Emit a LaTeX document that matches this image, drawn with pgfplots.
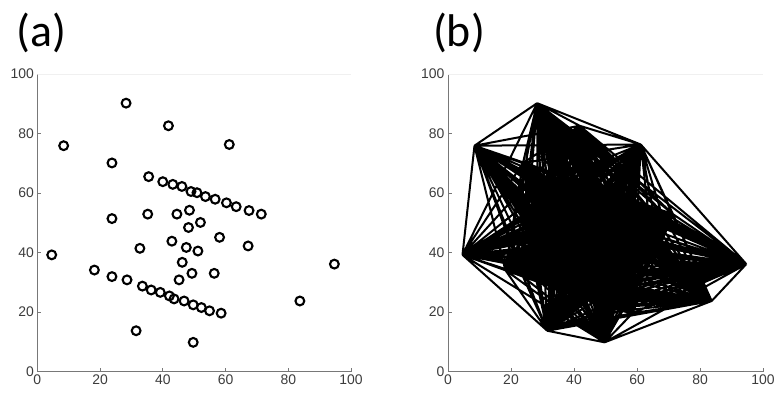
\documentclass[border=0pt]{standalone}
\usepackage{fontspec}
\setmainfont{Liberation Sans}
\newfontfamily\calib{Carlito}
\usepackage{pgfplots}
\usepackage{pgfplotstable}
\pgfplotsset{compat=1.18}
\definecolor{axgray}{RGB}{120,120,120}
\definecolor{labgray}{RGB}{60,60,60}

\pgfplotstableread{
x y
8.4 75.9
28.3 90.2
41.8 82.6
23.8 70.1
61.2 76.3
35.5 65.5
40.0 63.8
43.2 62.9
46.1 62.2
49.0 60.5
50.9 60.1
53.6 58.8
56.7 57.9
60.3 56.7
63.4 55.4
67.5 54.1
71.4 52.9
23.8 51.4
35.2 52.9
44.5 52.9
48.5 54.2
48.2 48.4
52.0 50.1
58.1 45.1
42.9 43.8
32.7 41.4
47.5 41.7
51.2 40.5
67.2 42.2
46.2 36.7
49.3 33.0
56.4 33.0
45.2 30.8
4.6 39.2
94.7 36.1
18.2 34.1
23.8 31.9
28.6 30.8
33.5 28.7
36.3 27.4
39.2 26.6
42.1 25.4
43.6 24.4
46.8 23.7
49.7 22.4
52.3 21.5
54.9 20.4
58.6 19.6
83.7 23.7
31.5 13.7
49.7 9.8
}\pts

% every pair of points joined by one segment (complete graph)
\gdef\edgelist{}
\pgfplotstablegetrowsof{\pts}
\pgfmathtruncatemacro\lastrow{\pgfplotsretval-1}
\foreach \i in {0,...,\lastrow}{%
  \pgfplotstablegetelem{\i}{x}\of\pts \let\xa\pgfplotsretval
  \pgfplotstablegetelem{\i}{y}\of\pts \let\ya\pgfplotsretval
  \foreach \j in {0,...,\lastrow}{%
    \ifnum\j>\i
      \pgfplotstablegetelem{\j}{x}\of\pts \let\xb\pgfplotsretval
      \pgfplotstablegetelem{\j}{y}\of\pts \let\yb\pgfplotsretval
      \xdef\edgelist{\edgelist (\xa,\ya) (\xb,\yb) (\xa,nan)}%
    \fi
  }%
}

\pgfplotsset{
  panel/.style={
    scale only axis,
    height=297.5bp,
    xmin=0, xmax=100, ymin=0, ymax=100,
    xtick={0,20,...,100}, ytick={0,20,...,100},
    axis x line*=bottom, axis y line*=left,
    axis line style={draw=axgray, line width=0.8bp},
    tick align=inside, major tick length=4bp,
    tick style={draw=axgray, line width=0.8bp},
    tick label style={font=\fontsize{14}{16}\selectfont, text=labgray},
    /pgf/number format/assume math mode=true,
    unbounded coords=jump,
  },
}

\begin{document}
\begin{tikzpicture}
\useasboundingbox (0,0) rectangle (777bp,399bp);

\begin{axis}[panel, width=313.7bp, at={(37.3bp,27.5bp)}, anchor=south west]
  \draw[black!6] (rel axis cs:0,1) -- (rel axis cs:1,1);
  \addplot[only marks, mark=o, mark size=4.4bp,
    mark options={draw=black, line width=2.1bp}] table[x=x,y=y] {\pts};
\end{axis}

\begin{axis}[panel, width=315bp, at={(448bp,27.5bp)}, anchor=south west]
  \draw[black!6] (rel axis cs:0,1) -- (rel axis cs:1,1);
  \begingroup
  \edef\tmp{\endgroup\noexpand\addplot[black, line width=2bp, no markers] coordinates {\edgelist};}%
  \tmp
\end{axis}

\node[font=\calib\fontsize{46}{52}\selectfont, inner sep=0pt] at (41.5bp,366.5bp) {(a)};
\node[font=\calib\fontsize{46}{52}\selectfont, inner sep=0pt] at (459bp,366.5bp) {(b)};
\end{tikzpicture}
\end{document}
